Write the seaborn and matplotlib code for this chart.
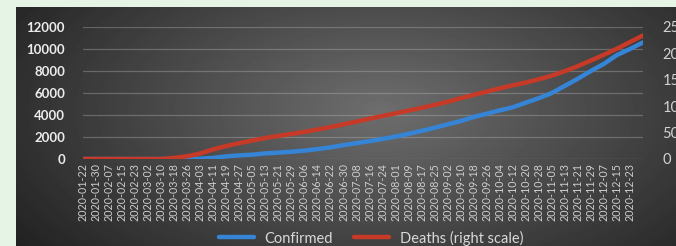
import pandas as pd
import numpy as np
import matplotlib
matplotlib.use("Agg")
import matplotlib.pyplot as plt
import seaborn as sns

# tick labels every 8 days, data read at each tick plus the last day shown
dates = ["2020-01-22", "2020-01-30", "2020-02-07", "2020-02-15", "2020-02-23",
         "2020-03-02", "2020-03-10", "2020-03-18", "2020-03-26", "2020-04-03",
         "2020-04-11", "2020-04-19", "2020-04-27", "2020-05-05", "2020-05-13",
         "2020-05-21", "2020-05-29", "2020-06-06", "2020-06-14", "2020-06-22",
         "2020-06-30", "2020-07-08", "2020-07-16", "2020-07-24", "2020-08-01",
         "2020-08-09", "2020-08-17", "2020-08-25", "2020-09-02", "2020-09-10",
         "2020-09-18", "2020-09-26", "2020-10-04", "2020-10-12", "2020-10-20",
         "2020-10-28", "2020-11-05", "2020-11-13", "2020-11-21", "2020-11-29",
         "2020-12-07", "2020-12-15", "2020-12-23"]
end_date = "2020-12-31"

confirmed = [0, 0, 0, 0, 0, 0, 0, 0, 0, 30, 100, 240, 330, 390, 510, 580, 660,
             760, 900, 1060, 1260, 1440, 1620, 1820, 2040, 2290, 2560, 2840,
             3150, 3450, 3820, 4120, 4420, 4700, 5120, 5530, 6000, 6650, 7300,
             8000, 8650, 9450, 10000, 10600]
deaths = [0, 0, 0, 0, 0, 0, 0, 2.1, 5.2, 10.4, 18.3, 24.6, 30.0, 35.0, 39.8,
          43.8, 47.5, 51.3, 55.8, 60.4, 65.6, 70.8, 76.3, 81.5, 86.5, 91.7,
          96.9, 102.5, 108.3, 115.2, 121.5, 127.7, 133.8, 139.6, 144.8, 151.0,
          157.9, 166.3, 176.0, 186.5, 197.5, 209.0, 221.5, 234.0]

left_ticks = [0, 2000, 4000, 6000, 8000, 10000, 12000]
right_ticks = [0, 50, 100, 150, 200, 250]

df = pd.DataFrame({"date": pd.to_datetime(dates + [end_date]),
                   "Confirmed": confirmed, "Deaths": deaths})

sns.set_style("dark")
plt.rcParams["font.family"] = ["Lato", "DejaVu Sans"]

W, H = 676, 246
fig = plt.figure(figsize=(W / 100, H / 100), dpi=100, facecolor="#e6f4e6")

# dark gradient panel
bg = fig.add_axes([16 / W, 0, 1 - 16 / W, 1 - 7 / H])
xx, yy = np.meshgrid(np.arange(16, W), np.arange(7, H))
d = np.sqrt(((xx - 380) / 330.0) ** 2 + ((yy - 110) / 170.0) ** 2)
shade = np.clip(0.43 - 0.22 * d, 0.13, 1)
bg.imshow(shade, cmap="gray", vmin=0, vmax=1, aspect="auto", interpolation="bilinear")
bg.axis("off")

ax = fig.add_axes([83 / W, 1 - 159 / H, (643 - 83) / W, (159 - 27) / H])
ax.set_facecolor("none")
ax2 = ax.twinx()

blue = "#3584d6"
red = "#c63a27"
sns.lineplot(data=df, x="date", y="Confirmed", ax=ax, color=blue, linewidth=3.2, label="Confirmed", legend=False)
sns.lineplot(data=df, x="date", y="Deaths", ax=ax2, color=red, linewidth=3.2, label="Deaths (right scale)", legend=False)

ax.set_xlim(df["date"].iloc[0], df["date"].iloc[-1])
ax.set_ylim(0, 12000)
ax2.set_ylim(0, 250)
ax.set_yticks(left_ticks)
ax2.set_yticks(right_ticks)
ax.set_xticks(pd.to_datetime(dates))
ax.set_xticklabels(dates, rotation=90, fontsize=7.7, color="#cfcfcf")
ax.set_yticklabels([str(v) for v in left_ticks], fontsize=9.5, fontweight="bold", color="#ececec")
ax2.set_yticklabels([str(v) for v in right_ticks], fontsize=10.5, color="#d2d2d2")
ax.set_xlabel("")
ax.set_ylabel("")
ax2.set_ylabel("")
ax.tick_params(axis="x", length=0, pad=3)
ax.tick_params(axis="y", length=0, pad=13)
ax2.tick_params(axis="y", length=0, pad=14)

ax.grid(axis="y", color="#bdbdbd", alpha=0.35, linewidth=0.9)
ax.grid(axis="x", visible=False)
ax2.grid(False)
for a in (ax, ax2):
    for s in a.spines.values():
        s.set_visible(False)

h1, l1 = ax.get_legend_handles_labels()
h2, l2 = ax2.get_legend_handles_labels()
fig.legend(h1 + h2, l1 + l2, loc="center", bbox_to_anchor=(371 / W, 1 - 238 / H),
           ncol=2, frameon=False, fontsize=10.5, labelcolor="#d9d9d9",
           handlelength=2.4, handletextpad=0.7, columnspacing=1.5)

fig.savefig("out.png", dpi=100, facecolor=fig.get_facecolor())
